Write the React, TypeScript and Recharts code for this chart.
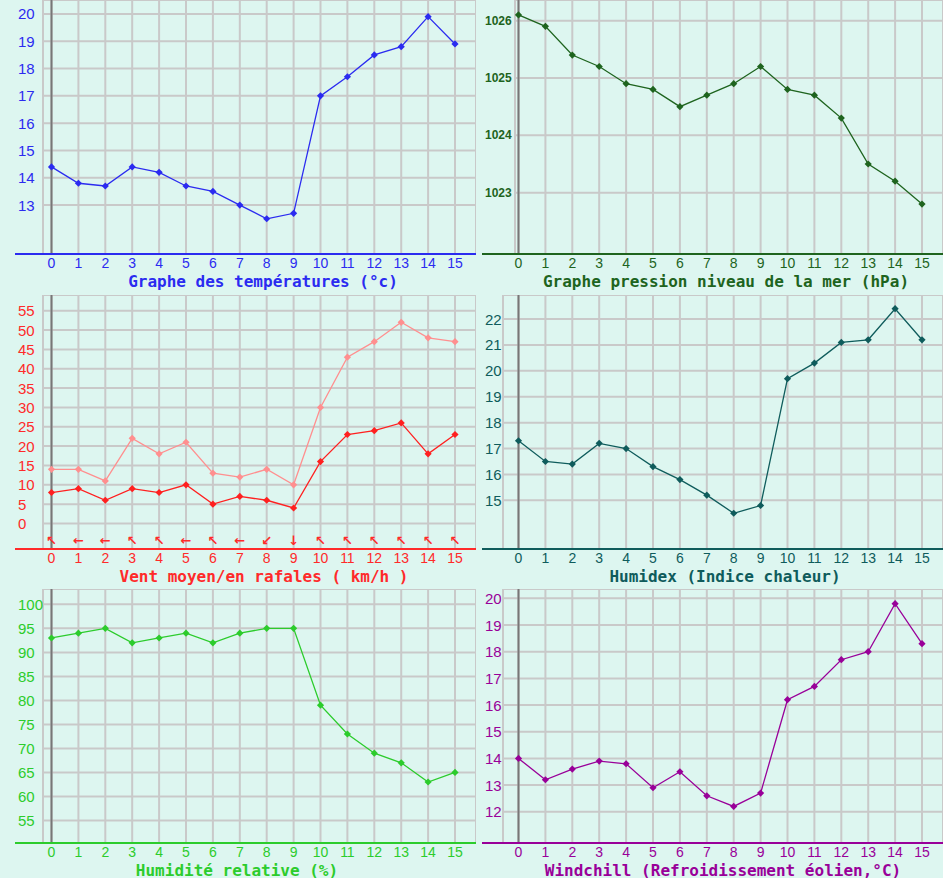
import { CartesianGrid, Label, Line, LineChart, ReferenceLine, XAxis, YAxis } from "recharts";

const hours = [0, 1, 2, 3, 4, 5, 6, 7, 8, 9, 10, 11, 12, 13, 14, 15];

const temperature = [14.4, 13.8, 13.7, 14.4, 14.2, 13.7, 13.5, 13.0, 12.5, 12.7, 17.0, 17.7, 18.5, 18.8, 19.9, 18.9];
const pressure = [1026.1, 1025.9, 1025.4, 1025.2, 1024.9, 1024.8, 1024.5, 1024.7, 1024.9, 1025.2, 1024.8, 1024.7, 1024.3, 1023.5, 1023.2, 1022.8];
const windMean = [8, 9, 6, 9, 8, 10, 5, 7, 6, 4, 16, 23, 24, 26, 18, 23];
const windGust = [14, 14, 11, 22, 18, 21, 13, 12, 14, 10, 30, 43, 47, 52, 48, 47];
const windDir = ["↖", "←", "←", "↖", "↖", "←", "↖", "←", "↙", "↓", "↖", "↖", "↖", "↖", "↖", "↖"];
const humidex = [17.3, 16.5, 16.4, 17.2, 17.0, 16.3, 15.8, 15.2, 14.5, 14.8, 19.7, 20.3, 21.1, 21.2, 22.4, 21.2];
const humidity = [93, 94, 95, 92, 93, 94, 92, 94, 95, 95, 79, 73, 69, 67, 63, 65];
const windchill = [14.0, 13.2, 13.6, 13.9, 13.8, 12.9, 13.5, 12.6, 12.2, 12.7, 16.2, 16.7, 17.7, 18.0, 19.8, 18.3];

const tempTicks = [13, 14, 15, 16, 17, 18, 19, 20];
const pressureTicks = [1023, 1024, 1025, 1026];
const windTicks = [0, 5, 10, 15, 20, 25, 30, 35, 40, 45, 50, 55];
const humidexTicks = [15, 16, 17, 18, 19, 20, 21, 22];
const humidityTicks = [55, 60, 65, 70, 75, 80, 85, 90, 95, 100];
const windchillTicks = [12, 13, 14, 15, 16, 17, 18, 19, 20];

const BG = "#ddf6f0";
const GRID = "#c9c9c9";
const TICK_FONT = "'Liberation Sans', Arial, sans-serif";
const TITLE_FONT = "'DejaVu Sans Mono', 'Liberation Mono', monospace";

type Series = { values: number[]; color: string };

type PanelProps = {
  left: number;
  top: number;
  yWidth: number;
  yDomain: [number, number];
  yTicks: number[];
  series: Series[];
  color: string;
  title: string;
  titleX: number;
  arrows?: string[];
  boldY?: boolean;
};

const diamond = (color: string) => (p: any) => {
  const { cx, cy, index } = p;
  if (cx == null || cy == null) return <g key={index} />;
  const r = 3.6;
  return (
    <path
      key={index}
      d={`M${cx},${cy - r}L${cx + r},${cy}L${cx},${cy + r}L${cx - r},${cy}Z`}
      fill={color}
      stroke="none"
    />
  );
};

function Panel(props: PanelProps) {
  const { left, top, yWidth, yDomain, yTicks, series, color, title, titleX, arrows, boldY } = props;
  const data = hours.map((h, i) => {
    const row: any = { hour: h };
    series.forEach((s, k) => (row["s" + k] = s.values[i]));
    return row;
  });
  // plot spans from yWidth to 476; hour 0 sits at x=51.5, 26.9px per hour
  const step = 26.9;
  const xDomain: [number, number] = [(yWidth - 51.5) / step, (476 - 51.5) / step];
  const axisStart = (15 - 51.5) / step;

  const xTick = (p: any) => {
    const { x, y, payload, index } = p;
    return (
      <g>
        <text x={x} y={y + 9} textAnchor="middle" dominantBaseline="central" fill={color} fontFamily={TICK_FONT} fontSize={14}>
          {payload.value}
        </text>
        {arrows ? (
          <text x={x} y={y - 9} textAnchor="middle" dominantBaseline="central" fill={color} fontFamily="'DejaVu Sans', sans-serif" fontSize={13} fontWeight="bold">
            {arrows[index]}
          </text>
        ) : null}
      </g>
    );
  };

  const yTick = (p: any) => {
    const { y, payload } = p;
    return (
      <text
        x={18}
        y={y}
        textAnchor="start"
        dominantBaseline="central"
        fill={color}
        fontFamily={TICK_FONT}
        fontSize={boldY ? 12 : 15}
        fontWeight={boldY ? "bold" : "normal"}
      >
        {payload.value}
      </text>
    );
  };

  return (
    <div style={{ position: "absolute", left, top }}>
      <LineChart width={476} height={295} data={data} margin={{ top: 0, right: 0, bottom: 0, left: 0 }}>
        <CartesianGrid stroke={GRID} strokeWidth={2} />
        <XAxis
          type="number"
          dataKey="hour"
          domain={xDomain}
          ticks={hours}
          interval={0}
          allowDataOverflow
          height={41}
          axisLine={false}
          tickLine={false}
          tickSize={0}
          tickMargin={0}
          tick={xTick}
        >
          <Label
            content={() => (
              <text x={titleX} y={281} textAnchor="middle" dominantBaseline="central" fill={color} fontFamily={TITLE_FONT} fontSize={16} fontWeight="bold">
                {title}
              </text>
            )}
          />
        </XAxis>
        <YAxis
          type="number"
          domain={yDomain}
          ticks={yTicks}
          interval={0}
          allowDataOverflow
          width={yWidth}
          axisLine={false}
          tickLine={false}
          tick={yTick}
        />
        <ReferenceLine x={0} stroke="#777777" strokeWidth={2} />
        <ReferenceLine
          segment={[
            { x: axisStart, y: yDomain[0] },
            { x: xDomain[1], y: yDomain[0] },
          ]}
          ifOverflow="visible"
          stroke={color}
          strokeWidth={2}
        />
        {series.map((s, k) => (
          <Line
            key={k}
            type="linear"
            dataKey={"s" + k}
            stroke={s.color}
            strokeWidth={1.3}
            dot={diamond(s.color)}
            activeDot={false}
            isAnimationActive={false}
          />
        ))}
      </LineChart>
    </div>
  );
}

export default function App() {
  return (
    <div style={{ position: "absolute", left: 0, top: 0, width: 943, height: 878, background: BG, overflow: "hidden" }}>
      <Panel
        left={0}
        top={0}
        yWidth={43}
        yDomain={[11.21, 20.51]}
        yTicks={tempTicks}
        series={[{ values: temperature, color: "#2b2bf0" }]}
        color="#2b2bf0"
        title="Graphe des températures (°c)"
        titleX={263}
      />
      <Panel
        left={467}
        top={0}
        yWidth={48}
        yDomain={[1021.93, 1026.36]}
        yTicks={pressureTicks}
        series={[{ values: pressure, color: "#1e641e" }]}
        color="#1e641e"
        title="Graphe pression niveau de la mer (hPa)"
        titleX={259}
        boldY
      />
      <Panel
        left={0}
        top={295}
        yWidth={43}
        yDomain={[-6.6, 59.06]}
        yTicks={windTicks}
        series={[
          { values: windGust, color: "#ff8f8f" },
          { values: windMean, color: "#ff2020" },
        ]}
        color="#ff2a2a"
        title="Vent moyen/en rafales ( km/h )"
        titleX={264}
        arrows={windDir}
      />
      <Panel
        left={467}
        top={295}
        yWidth={36}
        yDomain={[13.12, 22.93]}
        yTicks={humidexTicks}
        series={[{ values: humidex, color: "#0f5c5c" }]}
        color="#0f5c5c"
        title="Humidex (Indice chaleur)"
        titleX={258}
      />
      <Panel
        left={0}
        top={589}
        yWidth={43}
        yDomain={[50.3, 103.2]}
        yTicks={humidityTicks}
        series={[{ values: humidity, color: "#2ccc2c" }]}
        color="#2ccc2c"
        title="Humidité relative (%)"
        titleX={237}
      />
      <Panel
        left={467}
        top={589}
        yWidth={36}
        yDomain={[10.83, 20.35]}
        yTicks={windchillTicks}
        series={[{ values: windchill, color: "#990099" }]}
        color="#990099"
        title="Windchill (Refroidissement éolien,°C)"
        titleX={256}
      />
    </div>
  );
}
